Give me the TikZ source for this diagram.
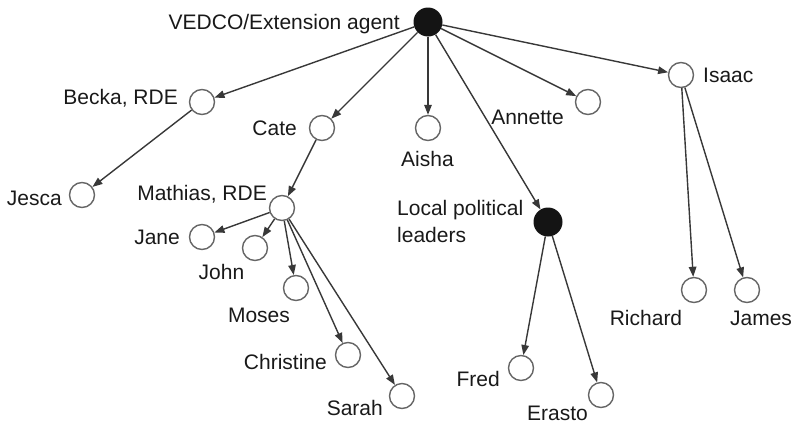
\documentclass[tikz,border=0pt]{standalone}
\usepackage{fontspec}
\setmainfont{Liberation Sans}
\usetikzlibrary{arrows.meta}
\begin{document}
\begin{tikzpicture}[x=1pt,y=-1pt,
  person/.style={circle,draw=black!60,line width=1.4pt,minimum size=25pt,inner sep=0pt},
  leader/.style={circle,fill=black!92,minimum size=29pt,inner sep=0pt},
  plabel/.style={inner sep=0pt,font=\fontsize{21}{27}\selectfont,text=black!90},
  link/.style={draw=black!78,line width=1.4pt,-{Triangle[length=10pt,width=7.5pt]}}]
  \useasboundingbox (0,0) rectangle (795,426);
  \node[leader] (vedco) at (428,22) {};
  \node[leader] (local) at (548,222) {};
  \foreach \n/\x/\y in {becka/202/102,cate/322/128,aisha/428/128,annette/588/102,
    isaac/681/75,jesca/82/195,mathias/282/208,jane/202/237,john/255/248,
    moses/296/288,christine/348/355,sarah/402/396,fred/521/368,erasto/601/395,
    richard/694/290,james/747/290}
  \node[person] (\n) at (\x,\y) {};

  \node[plabel,anchor=base east] (vedco-n) at (400,29.5) {VEDCO/Extension agent};
  \node[plabel,anchor=north west,align=left] (local-n) at (397,200.5) {Local political\\leaders};
  \node[plabel,anchor=base east] (becka-n) at (178,104.5) {Becka, RDE};
  \node[plabel,anchor=base east] (cate-n) at (297,135.5) {Cate};
  \node[plabel,anchor=base] (aisha-n) at (427.5,166.5) {Aisha};
  \node[plabel,anchor=base] (annette-n) at (527.5,124.5) {Annette};
  \node[plabel,anchor=base west] (isaac-n) at (703,82.5) {Isaac};
  \node[plabel,anchor=base east] (jesca-n) at (62,205.5) {Jesca};
  \node[plabel,anchor=base east] (mathias-n) at (267,200) {Mathias, RDE};
  \node[plabel,anchor=base east] (jane-n) at (180,244.5) {Jane};
  \node[plabel,anchor=base] (john-n) at (221.5,279.5) {John};
  \node[plabel,anchor=base] (moses-n) at (259,322.5) {Moses};
  \node[plabel,anchor=base east] (christine-n) at (327,369) {Christine};
  \node[plabel,anchor=base east] (sarah-n) at (383,415.5) {Sarah};
  \node[plabel,anchor=base east] (fred-n) at (500,386.5) {Fred};
  \node[plabel,anchor=base] (erasto-n) at (557.5,420.5) {Erasto};
  \node[plabel,anchor=base] (richard-n) at (646,325.5) {Richard};
  \node[plabel,anchor=base] (james-n) at (761,325.5) {James};

  \foreach \t in {becka,cate,aisha,local,annette,isaac}
  \draw[link] (vedco) -- (\t);
  \draw[link] (becka) -- (jesca);
  \draw[link] (cate) -- (mathias);
  \foreach \t in {jane,john,moses,christine,sarah}
  \draw[link] (mathias) -- (\t);
  \foreach \t in {fred,erasto}
  \draw[link] (local) -- (\t);
  \foreach \t in {richard,james}
  \draw[link] (isaac) -- (\t);
\end{tikzpicture}
\end{document}
